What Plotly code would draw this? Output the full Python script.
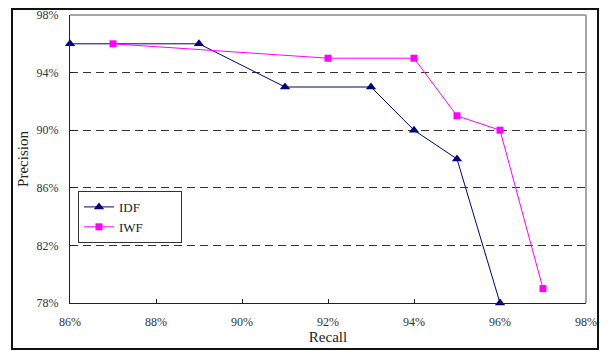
import plotly.graph_objects as go

idf_recall = [86, 89, 91, 93, 94, 95, 96]
idf_precision = [96, 96, 93, 93, 90, 88, 78]
iwf_recall = [87, 92, 94, 95, 96, 97]
iwf_precision = [96, 95, 95, 91, 90, 79]
series_names = ["IDF", "IWF"]

pad = "\u00a0" * 10
fig = go.Figure()
fig.add_trace(go.Scatter(x=idf_recall, y=idf_precision, name=series_names[0] + pad, mode="lines+markers",
                         line=dict(color="#000080", width=1),
                         marker=dict(symbol="triangle-up", size=9, color="#000080"),
                         cliponaxis=False))
fig.add_trace(go.Scatter(x=iwf_recall, y=iwf_precision, name=series_names[1] + pad, mode="lines+markers",
                         line=dict(color="#FF00FF", width=1),
                         marker=dict(symbol="square", size=7, color="#FF00FF"),
                         cliponaxis=False))

serif = "Liberation Serif"
fig.update_layout(
    width=602, height=346,
    margin=dict(l=62, r=24, t=7, b=51, autoexpand=False),
    paper_bgcolor="white", plot_bgcolor="white",
    font=dict(family=serif, size=12, color="#333"),
    legend=dict(x=0.0155, y=0.389, xanchor="left", yanchor="top",
                bordercolor="#333", borderwidth=1, bgcolor="white",
                font=dict(family=serif, size=13, color="#222"),
                itemwidth=30),
    xaxis=dict(range=[86, 98], tick0=86, dtick=2, ticksuffix="%", showgrid=False, zeroline=False,
               showline=True, linecolor="#222", linewidth=1, automargin=False,
               ticks="inside", ticklen=4, tickcolor="#222", ticklabelstandoff=8,
               title=dict(text="Recall", font=dict(family=serif, size=15, color="#222"), standoff=2)),
    yaxis=dict(range=[78, 98], tick0=78, dtick=4, ticksuffix="%", zeroline=False,
               showgrid=True, gridcolor="#333", griddash="8px,5px", gridwidth=1,
               showline=True, linecolor="#222", linewidth=1, automargin=False,
               ticks="inside", ticklen=4, tickcolor="#222", ticklabelstandoff=8,
               title=dict(text="Precision", font=dict(family=serif, size=15, color="#222"), standoff=4)),
    shapes=[
        dict(type="line", xref="paper", yref="paper", x0=0, x1=1, y0=1, y1=1,
             line=dict(color="#888", width=1.5), layer="above"),
        dict(type="line", xref="paper", yref="paper", x0=1, x1=1, y0=0, y1=1,
             line=dict(color="#888", width=1.5), layer="above"),
        dict(type="rect", xref="paper", yref="paper", x0=-0.1124, x1=1.0233, y0=-0.1597, y1=1.0208,
             line=dict(color="#111", width=2), layer="below"),
    ],
)
fig.write_html("out.html")
